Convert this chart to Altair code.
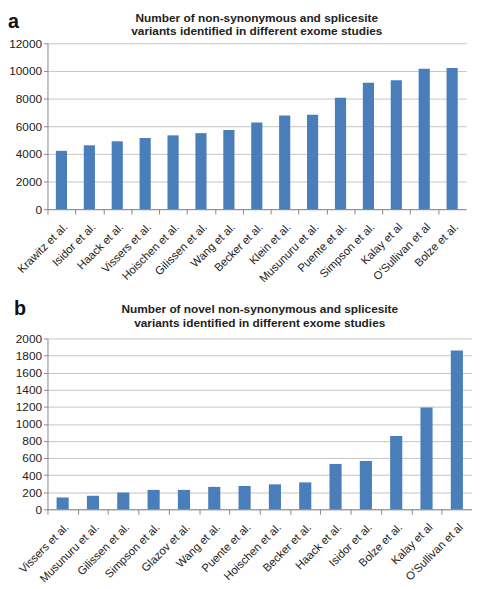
import altair as alt
import pandas as pd

# Panel a
studies_a = ["Krawitz et al.", "Isidor et al.", "Haack et al.", "Vissers et al.",
             "Hoischen et al.", "Gilissen et al.", "Wang et al.", "Becker et al.",
             "Klein et al.", "Musunuru et al.", "Puente et al.", "Simpson et al.",
             "Kalay et al", "O'Sullivan et al", "Bolze et al."]
values_a = [4220, 4620, 4910, 5150, 5340, 5500, 5730, 6270, 6780, 6830,
            8060, 9150, 9330, 10150, 10210]
title_a = ["Number of non-synonymous and splicesite",
           "variants identified in different exome studies"]
ticks_a = [0, 2000, 4000, 6000, 8000, 10000, 12000]

# Panel b
studies_b = ["Vissers et al.", "Musunuru et al.", "Gilissen et al.", "Simpson et al.",
             "Glazov et al.", "Wang et al.", "Puente et al.", "Hoischen et al.",
             "Becker et al.", "Haack et al.", "Isidor et al.", "Bolze et al.",
             "Kalay et al", "O'Sullivan et al"]
values_b = [138, 158, 196, 227, 227, 262, 273, 292, 315, 531, 565, 858, 1192, 1858]
title_b = ["Number of novel non-synonymous and splicesite",
           "variants identified in different exome studies"]
ticks_b = [0, 200, 400, 600, 800, 1000, 1200, 1400, 1600, 1800, 2000]

FONT = "Liberation Sans"
BLUE = "#4A7EBB"


def panel(names, vals, letter, title, ticks, W, H, letter_x, letter_y, title_y):
    df = pd.DataFrame({"study": names, "n": vals})
    step = W / len(names)
    bars = alt.Chart(df).mark_bar(color=BLUE).encode(
        x=alt.X("study:N", sort=names, title=None,
                scale=alt.Scale(paddingInner=0.6, paddingOuter=0.3),
                axis=alt.Axis(labelAngle=-45, grid=False, tickSize=5,
                              tickOffset=-step / 2, labelOffset=step / 2,
                              labelPadding=7, labelFontSize=11.5)),
        y=alt.Y("n:Q", title=None,
                scale=alt.Scale(domain=[ticks[0], ticks[-1]], nice=False),
                axis=alt.Axis(values=ticks, tickSize=4, labelPadding=2,
                              format="d")),
    )
    lab = alt.Chart(pd.DataFrame({"t": [letter]})).mark_text(
        fontSize=20, fontWeight="bold", font=FONT, align="left",
        baseline="top", color="#111").encode(
        text="t:N", x=alt.value(letter_x), y=alt.value(letter_y))
    ttl = alt.Chart(pd.DataFrame({"t": ["\n".join(title)]})).mark_text(
        fontSize=12, fontWeight="bold", font=FONT, align="center",
        baseline="top", lineBreak="\n", lineHeight=14, color="#222").encode(
        text="t:N", x=alt.value(W / 2), y=alt.value(title_y))
    return alt.layer(bars, lab, ttl).properties(width=W, height=H)


pa = panel(studies_a, values_a, "a", title_a, ticks_a, 424, 168, -40, -32, -31)
pb = panel(studies_b, values_b, "b", title_b, ticks_b, 430, 173, -34, -40, -35)

chart = alt.concat(pa, pb, columns=1, spacing=14).properties(
    align="none", padding=0
).configure_view(stroke=None).configure_axis(
    labelFont=FONT, labelFontSize=12, labelColor="#222",
    domainColor="#888", tickColor="#888", gridColor="#c4c4c4"
)

chart.save("out.html", embed_options={"renderer": "svg", "actions": False})
